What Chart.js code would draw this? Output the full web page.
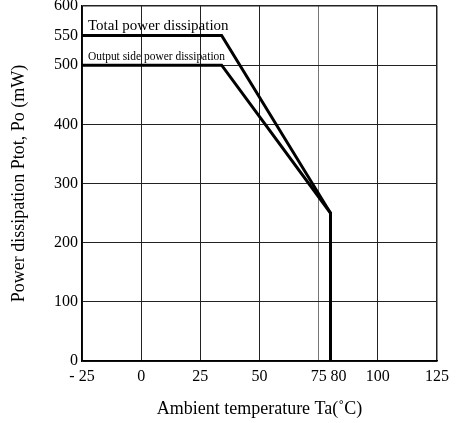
<!DOCTYPE html>
<html>
<head>
<meta charset="utf-8">
<script src="https://cdn.jsdelivr.net/npm/chart.js@4"></script>
<style>
  html, body { margin: 0; padding: 0; background: #fff; }
  #wrap { width: 457px; height: 423px; }
</style>
</head>
<body>
<div id="wrap"><canvas id="powerChart"></canvas></div>
<script>
// data
const totalX = [-25, 34, 80, 80];
const totalY = [550, 550, 250, 0];
const outputX = [-25, 34, 80, 80];
const outputY = [500, 500, 250, 0];
const xTicks = [-25, 0, 25, 50, 75, 80, 100, 125];
const yTicks = [0, 100, 200, 300, 400, 500, 550, 600];
const xNoGrid = [80];
const yNoGrid = [550];
const labelTotal = 'Total power dissipation';
const labelOutput = 'Output side power dissipation';

const toPoints = (xs, ys) => xs.map((x, i) => ({ x: x, y: ys[i] }));

const serif = "'Liberation Serif', 'DejaVu Serif', serif";

// curve names written inside the plot
const curveLabels = {
    id: 'curveLabels',
    afterDatasetsDraw(chart) {
        const ctx = chart.ctx;
        const xs = chart.scales.x;
        const ys = chart.scales.y;
        const left = xs.getPixelForValue(-25) + 6;
        ctx.save();
        ctx.fillStyle = '#000';
        ctx.textBaseline = 'alphabetic';
        ctx.textAlign = 'left';
        ctx.font = '15px ' + serif;
        ctx.fillText(labelTotal, left, ys.getPixelForValue(550) - 6, 142);
        ctx.font = '13px ' + serif;
        ctx.fillText(labelOutput, left, ys.getPixelForValue(500) - 5, 137);
        ctx.restore();
    }
};

function fixTicks(values) {
    return (scale) => {
        scale.ticks = values.map(v => ({ value: v }));
    };
}

function xLabel(v) {
    if (v < 0) return '- ' + Math.abs(v);
    // 80 sits right next to 75, printed just to the right of its line
    if (v === 80) return '\u2002\u2002' + v;
    return '' + v;
}

const canvas = document.getElementById('powerChart');
new Chart(canvas, {
    type: 'scatter',
    data: {
        datasets: [
            {
                label: labelTotal,
                data: toPoints(totalX, totalY),
                showLine: true,
                borderColor: '#000',
                borderWidth: 3,
                pointRadius: 0,
                fill: false
            },
            {
                label: labelOutput,
                data: toPoints(outputX, outputY),
                showLine: true,
                borderColor: '#000',
                borderWidth: 3,
                pointRadius: 0,
                fill: false
            }
        ]
    },
    options: {
        responsive: true,
        maintainAspectRatio: false,
        animation: false,
        layout: { padding: { top: 6, right: 20, left: 0, bottom: 0 } },
        plugins: {
            legend: { display: false },
            tooltip: { enabled: false }
        },
        scales: {
            x: {
                type: 'linear',
                min: -25,
                max: 125,
                afterBuildTicks: fixTicks(xTicks),
                afterFit: (scale) => {
                    scale.height = 62;
                    scale.paddingLeft = 0;
                    scale.paddingRight = 0;
                },
                border: { color: '#000', width: 1.5 },
                grid: {
                    drawTicks: false,
                    color: (c) => xNoGrid.includes(c.tick.value) ? 'rgba(0,0,0,0)' : (c.tick.value === 75 ? '#777' : '#222'),
                    lineWidth: (c) => (c.tick.value === 125 ? 1.5 : 1)
                },
                ticks: {
                    color: '#000',
                    padding: 6,
                    maxRotation: 0,
                    autoSkip: false,
                    font: { family: serif, size: 16 },
                    callback: xLabel
                },
                title: {
                    display: true,
                    text: 'Ambient temperature Ta(˚C)',
                    color: '#000',
                    font: { family: serif, size: 18 },
                    padding: { top: 4, bottom: 3 }
                }
            },
            y: {
                type: 'linear',
                min: 0,
                max: 600,
                afterBuildTicks: fixTicks(yTicks),
                afterFit: (scale) => {
                    scale.width = 82;
                    scale.paddingTop = 0;
                    scale.paddingBottom = 0;
                },
                border: { color: '#000', width: 1.5 },
                grid: {
                    drawTicks: false,
                    color: (c) => yNoGrid.includes(c.tick.value) ? 'rgba(0,0,0,0)' : '#222',
                    lineWidth: (c) => (c.tick.value === 600 ? 1.5 : 1)
                },
                ticks: {
                    color: '#000',
                    padding: 4,
                    autoSkip: false,
                    font: { family: serif, size: 16 }
                },
                title: {
                    display: true,
                    text: 'Power dissipation Ptot, Po (mW)',
                    color: '#000',
                    font: { family: serif, size: 18 },
                    padding: { top: 8, bottom: 4 }
                }
            }
        }
    },
    plugins: [curveLabels]
});
</script>
</body>
</html>
